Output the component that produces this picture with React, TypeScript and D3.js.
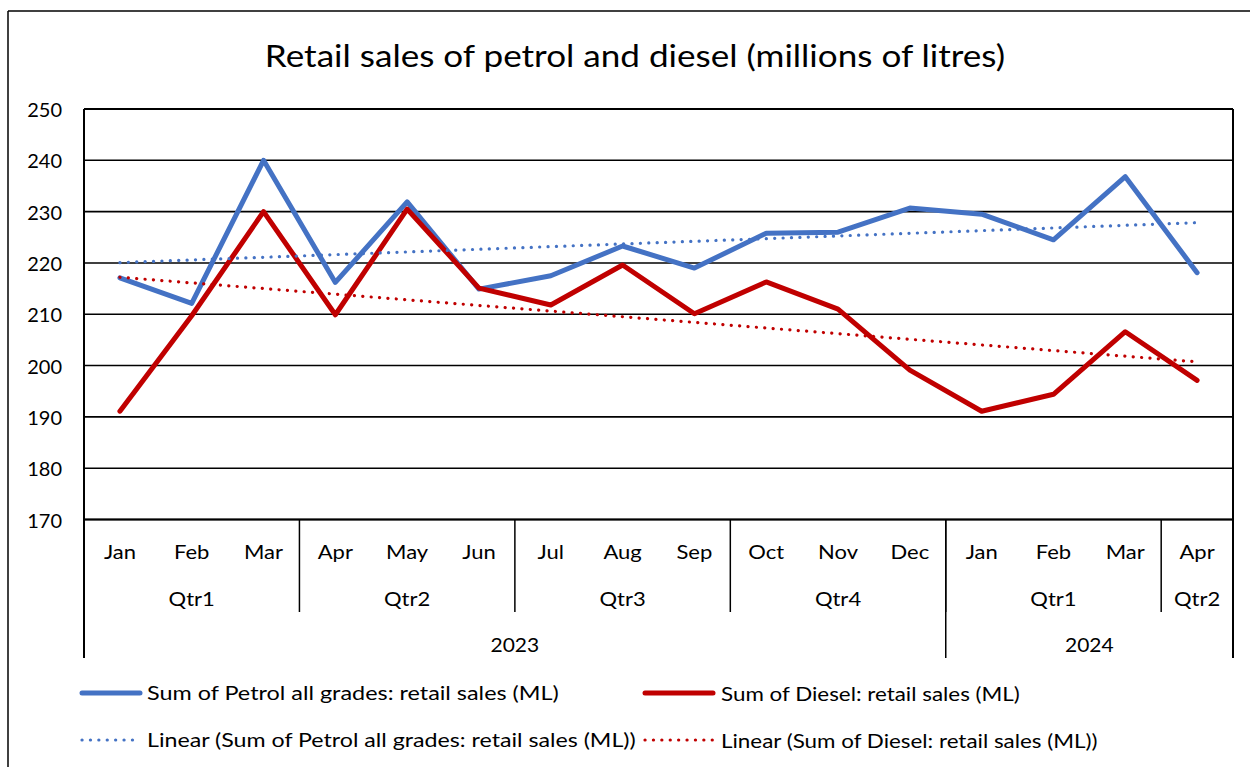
import React from "react";
import * as d3 from "d3";

const months = ["Jan", "Feb", "Mar", "Apr", "May", "Jun", "Jul", "Aug", "Sep", "Oct", "Nov", "Dec", "Jan", "Feb", "Mar", "Apr"];
const quarters = [
  { label: "Qtr1", start: 0, end: 3 },
  { label: "Qtr2", start: 3, end: 6 },
  { label: "Qtr3", start: 6, end: 9 },
  { label: "Qtr4", start: 9, end: 12 },
  { label: "Qtr1", start: 12, end: 15 },
  { label: "Qtr2", start: 15, end: 16 },
];
const years = [
  { label: "2023", start: 0, end: 12 },
  { label: "2024", start: 12, end: 16 },
];
const petrol = [217.1, 212.1, 240.0, 216.2, 231.9, 214.9, 217.5, 223.3, 219.0, 225.8, 226.0, 230.7, 229.5, 224.5, 236.8, 218.1];
const diesel = [191.1, 209.7, 230.0, 209.9, 230.5, 215.1, 211.8, 219.6, 210.1, 216.3, 211.0, 199.1, 191.1, 194.4, 206.6, 197.1];
const yTicks = [170, 180, 190, 200, 210, 220, 230, 240, 250];
const title = "Retail sales of petrol and diesel (millions of litres)";
const legendLabels = [
  "Sum of Petrol all grades: retail sales (ML)",
  "Sum of Diesel: retail sales (ML)",
  "Linear (Sum of Petrol all grades: retail sales (ML))",
  "Linear (Sum of Diesel: retail sales (ML))",
];

const BLUE = "#4472C4";
const RED = "#C00000";
const FONT = "Lato, 'Open Sans', sans-serif";

function linreg(vals: number[]) {
  const xs = vals.map((_, i) => i);
  const mx = d3.mean(xs)!;
  const my = d3.mean(vals)!;
  let num = 0, den = 0;
  xs.forEach((x, i) => { num += (x - mx) * (vals[i] - my); den += (x - mx) ** 2; });
  const b = num / den;
  const a = my - b * mx;
  return xs.map((x) => a + b * x);
}

function T({ x, y, anchor = "start", size = 20, sx = 1.17, children }: { x: number; y: number; anchor?: string; size?: number; sx?: number; children: React.ReactNode }) {
  return (
    <text transform={`translate(${x},${y}) scale(${sx},1)`} textAnchor={anchor as any} dominantBaseline="central" fontSize={size} fill="#000">
      {children}
    </text>
  );
}

export default function App() {
  const W = 1250, H = 767;
  const left = 84, right = 1233, top = 109, bottom = 519.5;
  const x = d3.scaleBand<number>().domain(d3.range(months.length)).range([left, right]);
  const y = d3.scaleLinear().domain([170, 250]).range([bottom, top]);
  const cx = (i: number) => x(i)! + x.bandwidth() / 2;
  const line = d3.line<number>().x((_, i) => cx(i)).y((d) => y(d));
  const petrolTrend = linreg(petrol);
  const dieselTrend = linreg(diesel);
  const edge = (i: number) => (i >= months.length ? right : x(i)!);

  return (
    <svg width={W} height={H} style={{ position: "absolute", left: 0, top: 0, background: "#fff" }} fontFamily={FONT}>
      <rect x={0} y={0} width={W} height={H} fill="#fff" />
      <line x1={8} y1={11} x2={W} y2={11} stroke="#000" strokeWidth={1.5} />
      <line x1={8} y1={11} x2={8} y2={H} stroke="#000" strokeWidth={1.5} />
      <T x={635} y={56} anchor="middle" size={30}>{title}</T>

      {yTicks.map((t) => (
        <line key={t} x1={left} x2={right} y1={y(t)} y2={y(t)} stroke="#000" strokeWidth={1.6} />
      ))}
      {yTicks.map((t) => (
        <T key={"l" + t} x={62} y={y(t)} anchor="end" sx={1.0}>{t}</T>
      ))}
      <line x1={left} x2={left} y1={top} y2={658} stroke="#000" strokeWidth={2} />
      <line x1={right} x2={right} y1={top} y2={658} stroke="#000" strokeWidth={2} />
      <line x1={left} x2={right} y1={top} y2={top} stroke="#000" strokeWidth={2} />
      <line x1={left} x2={right} y1={bottom} y2={bottom} stroke="#000" strokeWidth={2} />

      {months.map((m, i) => (
        <T key={"m" + i} x={cx(i)} y={551} anchor="middle" sx={1.1}>{m}</T>
      ))}
      {quarters.map((q, i) => (
        <g key={"q" + i}>
          <T x={(edge(q.start) + edge(q.end)) / 2} y={598} anchor="middle" sx={1.1}>{q.label}</T>
          {i > 0 && <line x1={edge(q.start)} x2={edge(q.start)} y1={bottom} y2={612} stroke="#000" strokeWidth={1.5} />}
        </g>
      ))}
      {years.map((yr, i) => (
        <g key={"y" + i}>
          <T x={(edge(yr.start) + edge(yr.end)) / 2} y={644} anchor="middle" sx={1.05}>{yr.label}</T>
          {i > 0 && <line x1={edge(yr.start)} x2={edge(yr.start)} y1={bottom} y2={658} stroke="#000" strokeWidth={1.5} />}
        </g>
      ))}

      <path d={line(petrol)!} fill="none" stroke={BLUE} strokeWidth={5} strokeLinejoin="round" strokeLinecap="round" />
      <path d={line(diesel)!} fill="none" stroke={RED} strokeWidth={5} strokeLinejoin="round" strokeLinecap="round" />
      <path d={line(petrolTrend)!} fill="none" stroke={BLUE} strokeWidth={3.2} strokeDasharray="0.1 8.3" strokeLinecap="round" />
      <path d={line(dieselTrend)!} fill="none" stroke={RED} strokeWidth={3.2} strokeDasharray="0.1 8.3" strokeLinecap="round" />

      <line x1={82} x2={140} y1={693} y2={693} stroke={BLUE} strokeWidth={5} strokeLinecap="round" />
      <T x={147} y={693}>{legendLabels[0]}</T>
      <line x1={645} x2={713} y1={693} y2={693} stroke={RED} strokeWidth={5} strokeLinecap="round" />
      <T x={721} y={693} sx={1.12}>{legendLabels[1]}</T>
      <line x1={82} x2={140} y1={740} y2={740} stroke={BLUE} strokeWidth={3.2} strokeDasharray="0.1 8.3" strokeLinecap="round" />
      <T x={147} y={740} sx={1.16}>{legendLabels[2]}</T>
      <line x1={645} x2={714} y1={740} y2={740} stroke={RED} strokeWidth={3.2} strokeDasharray="0.1 8.3" strokeLinecap="round" />
      <T x={721} y={740} sx={1.12}>{legendLabels[3]}</T>
    </svg>
  );
}
